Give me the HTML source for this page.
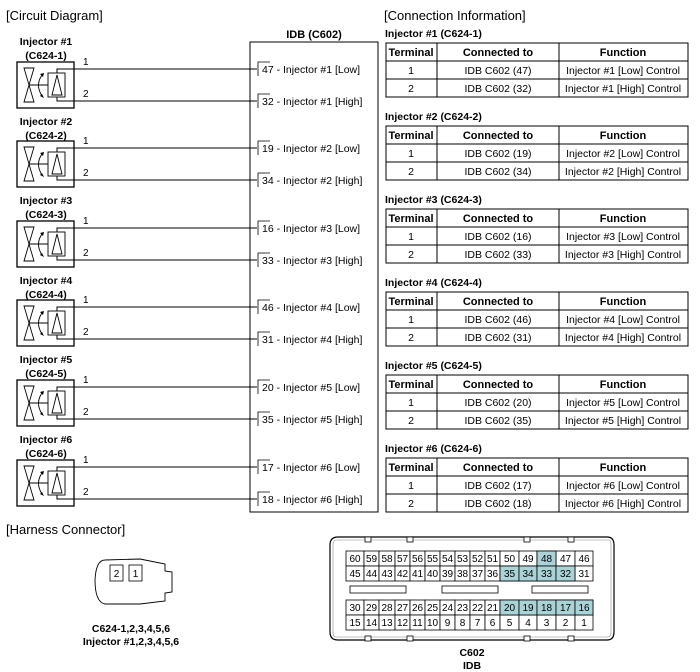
<!DOCTYPE html>
<html><head><meta charset="utf-8"><style>
body{margin:0;background:#fff;}
svg{display:block;font-family:"Liberation Sans",Arial,sans-serif;}
</style></head><body>
<svg width="700" height="672" viewBox="0 0 700 672" xmlns="http://www.w3.org/2000/svg">
<defs>
<g id="inj">
  <rect x="17" y="-7" width="57" height="46" fill="#fff" stroke="#000" stroke-width="1.3"/>
  <path d="M24,-1 L34,-1 L24,33 L34,33 Z" fill="none" stroke="#000" stroke-width="0.9"/>
  <line x1="29" y1="16" x2="48" y2="16" stroke="#000" stroke-width="0.9"/>
  <path d="M42,6 Q35,16 42,27" fill="none" stroke="#000" stroke-width="0.9"/>
  <path d="M40,5 L44,4 L43,8 Z M40,27 L44,29 L42,25 Z" fill="#000"/>
  <rect x="48" y="4" width="17" height="24" fill="none" stroke="#000" stroke-width="0.9"/>
  <path d="M52,26 L57,6 L62,26 Z" fill="none" stroke="#000" stroke-width="0.9"/>
  <polyline points="57,4 57,0 257,0" fill="none" stroke="#000" stroke-width="1"/>
  <polyline points="57,28 57,32 257,32" fill="none" stroke="#000" stroke-width="1"/>
  <text x="83" y="-4" font-size="10">1</text>
  <text x="83" y="28" font-size="10">2</text>
  <polyline points="270,-7 258,-7 258,7" fill="none" stroke="#000" stroke-width="0.8"/>
  <polyline points="270,25 258,25 258,39" fill="none" stroke="#000" stroke-width="0.8"/>
</g>
<g id="tbl">
  <rect x="386" y="0" width="302" height="54" fill="#fff" stroke="#000" stroke-width="1"/>
  <line x1="386" y1="18" x2="688" y2="18" stroke="#000"/>
  <line x1="386" y1="36" x2="688" y2="36" stroke="#000"/>
  <line x1="437" y1="0" x2="437" y2="54" stroke="#000"/>
  <line x1="559" y1="0" x2="559" y2="54" stroke="#000"/>
  <text x="411" y="13" font-size="11" font-weight="bold" text-anchor="middle">Terminal</text>
  <text x="498" y="13" font-size="11" font-weight="bold" text-anchor="middle">Connected to</text>
  <text x="623" y="13" font-size="11" font-weight="bold" text-anchor="middle">Function</text>
  <text x="411" y="31" font-size="10.5" text-anchor="middle">1</text>
  <text x="411" y="49" font-size="10.5" text-anchor="middle">2</text>
</g>
<g id="row">
  <rect x="346" y="0" width="18" height="15"/><rect x="364" y="0" width="15" height="15"/><rect x="379" y="0" width="16" height="15"/>
  <rect x="395" y="0" width="15" height="15"/><rect x="410" y="0" width="15" height="15"/><rect x="425" y="0" width="15" height="15"/>
  <rect x="440" y="0" width="15" height="15"/><rect x="455" y="0" width="15" height="15"/><rect x="470" y="0" width="15" height="15"/>
  <rect x="485" y="0" width="15" height="15"/><rect x="500" y="0" width="19" height="15"/><rect x="519" y="0" width="18" height="15"/>
  <rect x="537" y="0" width="19" height="15"/><rect x="556" y="0" width="19" height="15"/><rect x="575" y="0" width="18" height="15"/>
</g>
</defs>

<text x="6" y="20" font-size="13">[Circuit Diagram]</text>
<text x="384" y="20" font-size="13">[Connection Information]</text>
<text x="6" y="534" font-size="13">[Harness Connector]</text>

<rect x="250" y="42" width="128" height="470" fill="#fff" stroke="#000" stroke-width="1"/>
<text x="314" y="38" font-size="11" font-weight="bold" text-anchor="middle">IDB (C602)</text>

<g font-size="10.5" font-weight="bold" text-anchor="middle">
<text x="46" y="45">Injector #1</text><text x="46" y="59">(C624-1)</text>
<text x="46" y="125">Injector #2</text><text x="46" y="139">(C624-2)</text>
<text x="46" y="204">Injector #3</text><text x="46" y="218">(C624-3)</text>
<text x="46" y="284">Injector #4</text><text x="46" y="298">(C624-4)</text>
<text x="46" y="363">Injector #5</text><text x="46" y="377">(C624-5)</text>
<text x="46" y="443">Injector #6</text><text x="46" y="457">(C624-6)</text>
</g>
<use href="#inj" y="69"/><use href="#inj" y="148"/><use href="#inj" y="228"/>
<use href="#inj" y="307"/><use href="#inj" y="387"/><use href="#inj" y="467"/>
<g font-size="10.5">
<text x="262" y="73">47 - Injector #1 [Low]</text><text x="262" y="105">32 - Injector #1 [High]</text>
<text x="262" y="152">19 - Injector #2 [Low]</text><text x="262" y="184">34 - Injector #2 [High]</text>
<text x="262" y="232">16 - Injector #3 [Low]</text><text x="262" y="264">33 - Injector #3 [High]</text>
<text x="262" y="311">46 - Injector #4 [Low]</text><text x="262" y="343">31 - Injector #4 [High]</text>
<text x="262" y="391">20 - Injector #5 [Low]</text><text x="262" y="423">35 - Injector #5 [High]</text>
<text x="262" y="471">17 - Injector #6 [Low]</text><text x="262" y="503">18 - Injector #6 [High]</text>
</g>

<g font-size="10.5">
<text x="385" y="37" font-weight="bold">Injector #1 (C624-1)</text>
<use href="#tbl" y="43"/>
<text x="498" y="74" text-anchor="middle">IDB C602 (47)</text><text x="623" y="74" text-anchor="middle">Injector #1 [Low] Control</text>
<text x="498" y="92" text-anchor="middle">IDB C602 (32)</text><text x="623" y="92" text-anchor="middle">Injector #1 [High] Control</text>

<text x="385" y="120" font-weight="bold">Injector #2 (C624-2)</text>
<use href="#tbl" y="126"/>
<text x="498" y="157" text-anchor="middle">IDB C602 (19)</text><text x="623" y="157" text-anchor="middle">Injector #2 [Low] Control</text>
<text x="498" y="175" text-anchor="middle">IDB C602 (34)</text><text x="623" y="175" text-anchor="middle">Injector #2 [High] Control</text>

<text x="385" y="203" font-weight="bold">Injector #3 (C624-3)</text>
<use href="#tbl" y="209"/>
<text x="498" y="240" text-anchor="middle">IDB C602 (16)</text><text x="623" y="240" text-anchor="middle">Injector #3 [Low] Control</text>
<text x="498" y="258" text-anchor="middle">IDB C602 (33)</text><text x="623" y="258" text-anchor="middle">Injector #3 [High] Control</text>

<text x="385" y="286" font-weight="bold">Injector #4 (C624-4)</text>
<use href="#tbl" y="292"/>
<text x="498" y="323" text-anchor="middle">IDB C602 (46)</text><text x="623" y="323" text-anchor="middle">Injector #4 [Low] Control</text>
<text x="498" y="341" text-anchor="middle">IDB C602 (31)</text><text x="623" y="341" text-anchor="middle">Injector #4 [High] Control</text>

<text x="385" y="369" font-weight="bold">Injector #5 (C624-5)</text>
<use href="#tbl" y="375"/>
<text x="498" y="406" text-anchor="middle">IDB C602 (20)</text><text x="623" y="406" text-anchor="middle">Injector #5 [Low] Control</text>
<text x="498" y="424" text-anchor="middle">IDB C602 (35)</text><text x="623" y="424" text-anchor="middle">Injector #5 [High] Control</text>

<text x="385" y="452" font-weight="bold">Injector #6 (C624-6)</text>
<use href="#tbl" y="458"/>
<text x="498" y="489" text-anchor="middle">IDB C602 (17)</text><text x="623" y="489" text-anchor="middle">Injector #6 [Low] Control</text>
<text x="498" y="507" text-anchor="middle">IDB C602 (18)</text><text x="623" y="507" text-anchor="middle">Injector #6 [High] Control</text>
</g>

<!-- small connector -->
<path d="M105,560 Q96,560 95,580 Q95,602 105,604 L140,604 L165,601 L165,593 L172,592 L172,572 L165,571 L165,564 L140,559 Z" fill="#fff" stroke="#000" stroke-width="0.9"/>
<rect x="110" y="565" width="13" height="16" fill="#fff" stroke="#000" stroke-width="0.8"/>
<rect x="129" y="565" width="13" height="16" fill="#fff" stroke="#000" stroke-width="0.8"/>
<text x="116.5" y="577" font-size="10" text-anchor="middle">2</text>
<text x="135.5" y="577" font-size="10" text-anchor="middle">1</text>
<text x="131" y="632" font-size="10.5" font-weight="bold" text-anchor="middle">C624-1,2,3,4,5,6</text>
<text x="131" y="645" font-size="10.5" font-weight="bold" text-anchor="middle">Injector #1,2,3,4,5,6</text>

<!-- C602 connector -->
<path d="M338,537 L607,537 Q614,537 614,545 L614,632 Q614,640 607,640 L338,640 Q330,640 330,632 L330,545 Q330,537 338,537 Z" fill="#fff" stroke="#000" stroke-width="1.2"/>
<path d="M336,540 L609,540 Q611,540 611,545 L611,632 Q611,637 607,637 L336,637 Q333,637 333,632 L333,545 Q333,540 336,540 Z" fill="none" stroke="#888" stroke-width="0.6"/>
<g fill="#fff" stroke="#000" stroke-width="0.8">
<rect x="365" y="537" width="6" height="5"/><rect x="407" y="537" width="6" height="5"/><rect x="524" y="537" width="6" height="5"/><rect x="568" y="537" width="6" height="5"/>
<rect x="365" y="636" width="6" height="5"/><rect x="407" y="636" width="6" height="5"/><rect x="524" y="636" width="6" height="5"/><rect x="568" y="636" width="6" height="5"/>
<rect x="350" y="586" width="56" height="7"/><rect x="442" y="586" width="56" height="7"/><rect x="532" y="586" width="56" height="7"/>
</g>
<g fill="#fff" stroke="#000" stroke-width="0.8">
<use href="#row" y="551"/><use href="#row" y="566"/><use href="#row" y="600"/><use href="#row" y="615"/>
</g>
<g fill="#a9d3d6" stroke="#000" stroke-width="0.8">
<rect x="537" y="551" width="19" height="15"/>
<rect x="500" y="566" width="19" height="15"/><rect x="519" y="566" width="18" height="15"/><rect x="537" y="566" width="19" height="15"/><rect x="556" y="566" width="19" height="15"/>
<rect x="500" y="600" width="19" height="15"/><rect x="519" y="600" width="18" height="15"/><rect x="537" y="600" width="19" height="15"/><rect x="556" y="600" width="19" height="15"/><rect x="575" y="600" width="18" height="15"/>
</g>
<g font-size="10" text-anchor="middle">
<text x="355" y="562">60</text><text x="371.5" y="562">59</text><text x="387" y="562">58</text><text x="402.5" y="562">57</text><text x="417.5" y="562">56</text><text x="432.5" y="562">55</text><text x="447.5" y="562">54</text><text x="462.5" y="562">53</text><text x="477.5" y="562">52</text><text x="492.5" y="562">51</text><text x="509.5" y="562">50</text><text x="528" y="562">49</text><text x="546.5" y="562">48</text><text x="565.5" y="562">47</text><text x="584" y="562">46</text>
<text x="355" y="577">45</text><text x="371.5" y="577">44</text><text x="387" y="577">43</text><text x="402.5" y="577">42</text><text x="417.5" y="577">41</text><text x="432.5" y="577">40</text><text x="447.5" y="577">39</text><text x="462.5" y="577">38</text><text x="477.5" y="577">37</text><text x="492.5" y="577">36</text><text x="509.5" y="577">35</text><text x="528" y="577">34</text><text x="546.5" y="577">33</text><text x="565.5" y="577">32</text><text x="584" y="577">31</text>
<text x="355" y="611">30</text><text x="371.5" y="611">29</text><text x="387" y="611">28</text><text x="402.5" y="611">27</text><text x="417.5" y="611">26</text><text x="432.5" y="611">25</text><text x="447.5" y="611">24</text><text x="462.5" y="611">23</text><text x="477.5" y="611">22</text><text x="492.5" y="611">21</text><text x="509.5" y="611">20</text><text x="528" y="611">19</text><text x="546.5" y="611">18</text><text x="565.5" y="611">17</text><text x="584" y="611">16</text>
<text x="355" y="626">15</text><text x="371.5" y="626">14</text><text x="387" y="626">13</text><text x="402.5" y="626">12</text><text x="417.5" y="626">11</text><text x="432.5" y="626">10</text><text x="447.5" y="626">9</text><text x="462.5" y="626">8</text><text x="477.5" y="626">7</text><text x="492.5" y="626">6</text><text x="509.5" y="626">5</text><text x="528" y="626">4</text><text x="546.5" y="626">3</text><text x="565.5" y="626">2</text><text x="584" y="626">1</text>
</g>
<text x="472" y="656" font-size="10.5" font-weight="bold" text-anchor="middle">C602</text>
<text x="472" y="669" font-size="10.5" font-weight="bold" text-anchor="middle">IDB</text>
</svg>
</body></html>
